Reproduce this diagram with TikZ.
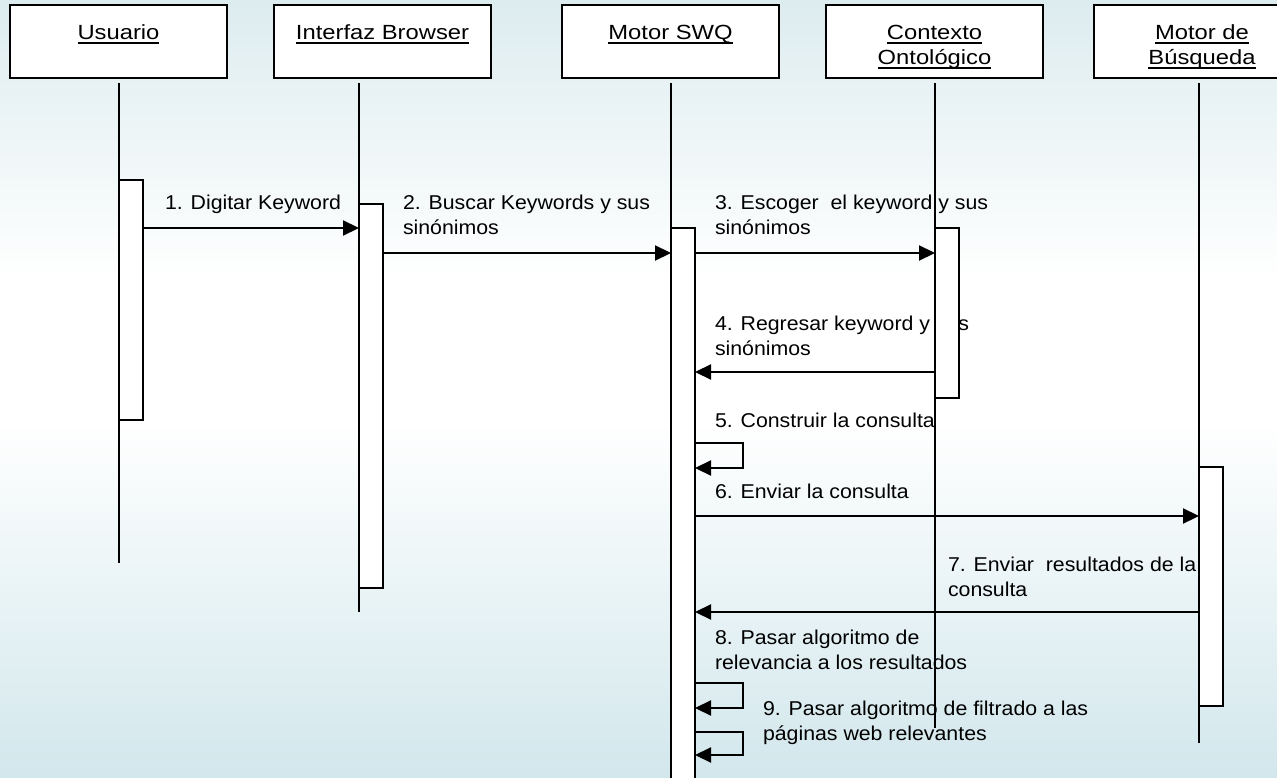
\documentclass[tikz,border=0pt]{standalone}
\usepackage{fontspec}
\setmainfont{Liberation Sans}
\newfontfamily\msgfont{Liberation Sans}[FakeStretch=1.065]
\newfontfamily\hdrfont{Liberation Sans}[FakeStretch=1.16]
\usetikzlibrary{arrows.meta}
\definecolor{bgtop}{HTML}{DDECEF}
\definecolor{bgbot}{HTML}{D2E7EC}
\pgfdeclareverticalshading{bgshade}{100bp}{color(0bp)=(bgbot); color(25bp)=(bgbot); color(48bp)=(white); color(57bp)=(white); color(75bp)=(bgtop); color(100bp)=(bgtop)}
\begin{document}
\begin{tikzpicture}[x=1pt,y=-1pt,
 hdrbox/.style={draw, line width=2pt, fill=white, minimum width=217pt, minimum height=73pt, inner sep=0pt, outer sep=0pt},
 hdrtxt/.style={inner sep=0pt, outer sep=0pt, anchor=base, font=\hdrfont\fontsize{20.5}{25}\selectfont},
 msgtxt/.style={inner sep=0pt, outer sep=0pt, anchor=base west, font=\msgfont\fontsize{20}{25}\selectfont},
 lifeline/.style={line width=1.2pt},
 actbox/.style={draw, line width=2pt, fill=white, minimum width=24pt, inner sep=0pt, outer sep=0pt, anchor=north west},
 msg/.style={line width=2.2pt, -{Triangle[length=16pt,width=15pt]}},
 ulinestyle/.style={line width=1.3pt}
]
\useasboundingbox (0,0) rectangle (1277,778);
\begin{scope}
\clip (0,0) rectangle (1277,778);
\shade[shading=bgshade] (0,0) rectangle (1277,778);

% message labels
\node[msgtxt] (m1) at (165,210) {1. Digitar Keyword};
\node[msgtxt] (m2a) at (403,210) {2. Buscar Keywords y sus};
\node[msgtxt] (m2b) at (403,235) {sinónimos};
\node[msgtxt] (m3a) at (715,210) {3. Escoger\ \ el keyword y sus};
\node[msgtxt] (m3b) at (715,235) {sinónimos};
\node[msgtxt] (m4a) at (715,330) {4. Regresar keyword y sus};
\node[msgtxt] (m4b) at (715,355) {sinónimos};
\node[msgtxt] (m5) at (715,427) {5. Construir la consulta};
\node[msgtxt] (m6) at (715,498) {6. Enviar la consulta};
\node[msgtxt] (m7a) at (948,571) {7. Enviar\ \ resultados de la};
\node[msgtxt] (m7b) at (948,596) {consulta};
\node[msgtxt] (m8a) at (715,644) {8. Pasar algoritmo de};
\node[msgtxt] (m8b) at (715,669) {relevancia a los resultados};
\node[msgtxt] (m9a) at (763,715) {9. Pasar algoritmo de filtrado a las};
\node[msgtxt] (m9b) at (763,740) {páginas web relevantes};

% header boxes
\node[hdrbox] (h1) at (118.5,41.5) {};
\node[hdrbox] (h2) at (382.5,41.5) {};
\node[hdrbox] (h3) at (670.5,41.5) {};
\node[hdrbox] (h4) at (934.5,41.5) {};
\node[hdrbox] (h5) at (1202,41.5) {};

\node[hdrtxt] (t1) at (118.5,40) {Usuario};
\node[hdrtxt] (t2) at (382.5,40) {Interfaz Browser};
\node[hdrtxt] (t3) at (670.5,40) {Motor SWQ};
\node[hdrtxt] (t4a) at (934.5,40) {Contexto};
\node[hdrtxt] (t4b) at (934.5,65) {Ontológico};
\node[hdrtxt] (t5a) at (1202,40) {Motor de};
\node[hdrtxt] (t5b) at (1202,65) {Búsqueda};
\foreach \t in {t1,t2,t3,t4a,t4b,t5a,t5b}{
  \draw[ulinestyle] ([yshift=-3pt]\t.base west) -- ([yshift=-3pt]\t.base east);
}

% activation box positions
\coordinate (p1) at (119,180);
\coordinate (p2) at (359,204);
\coordinate (p3) at (671,228);
\coordinate (p4) at (935,228);
\coordinate (p5) at (1199,467);

% lifelines
\draw[lifeline] (p1 |- 0,83) -- (p1 |- 0,563);
\draw[lifeline] (p2 |- 0,83) -- (p2 |- 0,612);
\draw[lifeline] (p3 |- 0,83) -- (p3 |- 0,790);
\draw[lifeline] (p4 |- 0,83) -- (p4 |- 0,728);
\draw[lifeline] (p5 |- 0,83) -- (p5 |- 0,743);

\node[actbox, minimum height=240pt] (a1) at (p1) {};
\node[actbox, minimum height=384pt] (a2) at (p2) {};
\node[actbox, minimum height=600pt] (a3) at (p3) {};
\node[actbox, minimum height=170pt] (a4) at (p4) {};
\node[actbox, minimum height=239pt] (a5) at (p5) {};

% messages
\draw[msg] (a1.east |- 0,228) -- (a2.west |- 0,228);
\draw[msg] (a2.east |- 0,253) -- (a3.west |- 0,253);
\draw[msg] (a3.east |- 0,253) -- (a4.west |- 0,253);
\draw[msg] (a4.west |- 0,372) -- (a3.east |- 0,372);
\draw[msg] (a3.east |- 0,443) -| (743,468) -- (a3.east |- 0,468);
\draw[msg] (a3.east |- 0,516) -- (a5.west |- 0,516);
\draw[msg] (a5.west |- 0,612) -- (a3.east |- 0,612);
\draw[msg] (a3.east |- 0,683) -| (743,708) -- (a3.east |- 0,708);
\draw[msg] (a3.east |- 0,732) -| (743,755) -- (a3.east |- 0,755);
\end{scope}
\end{tikzpicture}
\end{document}
